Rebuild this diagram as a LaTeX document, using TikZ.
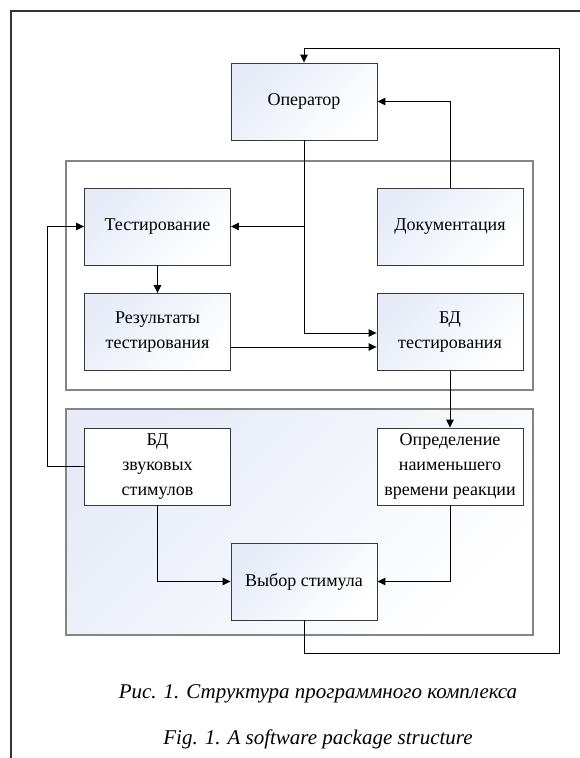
\documentclass[tikz,border=0pt]{standalone}
\usepackage{fontspec}
\setmainfont{Liberation Serif}
\usetikzlibrary{arrows.meta}
\definecolor{boxblue}{HTML}{E6EBF7}
\definecolor{grpgray}{HTML}{858585}
\definecolor{boxline}{HTML}{3A3A3A}
\begin{document}
\begin{tikzpicture}[x=1pt,y=-1pt,
  blk/.style={draw=boxline,line width=0.9pt,minimum width=146pt,minimum height=77pt,inner sep=0pt,
    align=center,font=\fontsize{18}{25}\selectfont,
    top color=boxblue,middle color=white!85!boxblue,bottom color=white,shading angle=45},
  wblk/.style={draw=boxline,line width=0.9pt,minimum width=146pt,minimum height=77pt,inner sep=0pt,
    align=center,font=\fontsize{18}{25}\selectfont,fill=white},
  grp/.style={draw=grpgray,line width=2pt},
  conn/.style={line width=1pt},
  arr/.style={conn,-{Triangle[length=8pt,width=7.5pt]}},
  captext/.style={font=\fontsize{21}{25}\selectfont\itshape,anchor=base}]
\useasboundingbox (0,0) rectangle (579,758);
% outer frame
\draw[line width=1.5pt,draw=black!80] (11,758) -- (11,11) -- (580,11);
% groups
\draw[grp,fill=white] (66,161) rectangle (533,390);
\draw[grp,top color=boxblue,middle color=white!85!boxblue,bottom color=white,shading angle=45] (66,409) rectangle (533,635);
% boxes
\node[blk] (op) at (304,101.5) {Оператор};
\node[blk] (test) at (157.5,226.5) {Тестирование};
\node[blk] (doc) at (450,226.5) {Документация};
\node[blk] (res) at (157.5,332) {Результаты\\тестирования};
\node[blk] (bdt) at (450,332) {БД\\тестирования};
\node[wblk] (bdz) at (157.5,466.5) {БД\\звуковых\\стимулов};
\node[wblk] (opr) at (450,466.5) {Определение\\наименьшего\\времени реакции};
\node[blk] (vyb) at (304,581.5) {Выбор стимула};
% junction coordinates
\coordinate (j1) at (op.south |- test.east);
\coordinate (j2) at (303.5,333);
\coordinate (lp1) at (47,0);
\coordinate (rp) at (559,0);
% connectors
\draw[conn] (op.south) -- (j1);
\draw[arr] (j1) -- (test.east);
\draw[arr] (j1) |- (bdt.west |- j2);
\draw[arr] (res.east |- 0,347) -- (bdt.west |- 0,347);
\draw[arr] (test.south) -- (res.north);
\draw[arr] (doc.north) |- (op.east);
\draw[arr] (bdt.south) -- (opr.north);
\draw[arr] (bdz.west) -| (lp1 |- test.west) -- (test.west);
\draw[arr] (bdz.south) |- (vyb.west);
\draw[arr] (opr.south) |- (vyb.east);
\draw[arr] (vyb.south) -- ++(0,33) -| (rp |- 0,48) -| (op.north);
% captions
\node[captext] (c1) at (318,698) {Рис. 1. Структура программного комплекса};
\node[captext] (c2) at (318,744) {Fig. 1. A software package structure};
\end{tikzpicture}
\end{document}
